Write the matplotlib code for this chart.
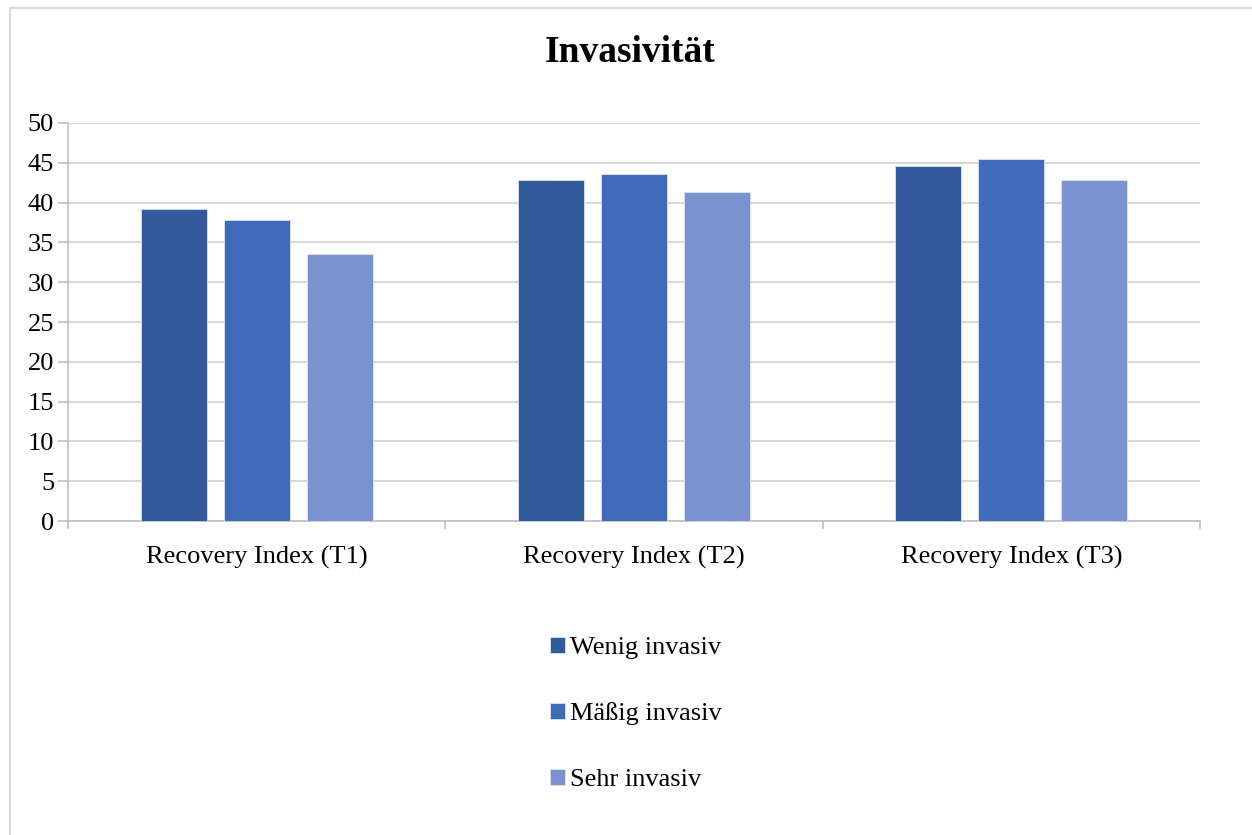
import matplotlib.pyplot as plt
import matplotlib.patches as patches
import numpy as np

# Daten
categories = ["Recovery Index (T1)", "Recovery Index (T2)", "Recovery Index (T3)"]
series_names = ["Wenig invasiv", "Mäßig invasiv", "Sehr invasiv"]
wenig = [39.2, 42.9, 44.6]
maessig = [37.8, 43.6, 45.5]
sehr = [33.6, 41.3, 42.9]
colors = ["#31599B", "#3F6BBA", "#7A92D0"]
title = "Invasivität"

plt.rcParams['font.family'] = ['Liberation Serif', 'DejaVu Serif']

fig = plt.figure(figsize=(12.52, 8.35), dpi=100)
ax = fig.add_axes([0.0543, 0.376, 0.9042, 0.4767])

# Rahmen um das Diagramm
fig.patches.append(patches.Rectangle((10 / 1252, -0.1), 1.1, 1.1 - 8 / 835,
                                     transform=fig.transFigure, fill=False,
                                     edgecolor="#D9D9D9", linewidth=1.5))

x = np.arange(len(categories))
width = 0.175
step = 0.22
for i, (vals, name) in enumerate(zip([wenig, maessig, sehr], series_names)):
    ax.bar(x + (i - 1) * step, vals, width, color=colors[i], label=name,
           edgecolor="#DCE3F2", linewidth=0.6, zorder=3)

ax.set_xlim(-0.5, 2.5)
ax.set_ylim(0, 50)
ax.set_yticks(range(0, 51, 5))
ax.yaxis.grid(True, color="#D9D9D9", linewidth=1.5, zorder=0)
ax.set_xticks(x)
ax.set_xticklabels(categories)
ax.set_xticks([-0.5, 0.5, 1.5, 2.5], minor=True)
ax.tick_params(axis="x", which="major", length=0, pad=18, labelsize=19)
ax.tick_params(axis="x", which="minor", length=6, color="#BFBFBF", width=1.2)
ax.tick_params(axis="y", length=7, color="#BFBFBF", width=1.2, labelsize=19, pad=3)

for s in ["top", "right"]:
    ax.spines[s].set_visible(False)
for s in ["left", "bottom"]:
    ax.spines[s].set_color("#BFBFBF")
    ax.spines[s].set_linewidth(1.2)

fig.text(630 / 1252, 1 - 53 / 835, title, ha="center", va="center",
         fontsize=27, fontweight="bold")

fig.legend(loc="center", bbox_to_anchor=(636 / 1252, 1 - 714 / 835), frameon=False,
           fontsize=19, handlelength=0.55, handleheight=0.55, handletextpad=0.2,
           labelspacing=1.65)

fig.savefig("out.png", dpi=100)
